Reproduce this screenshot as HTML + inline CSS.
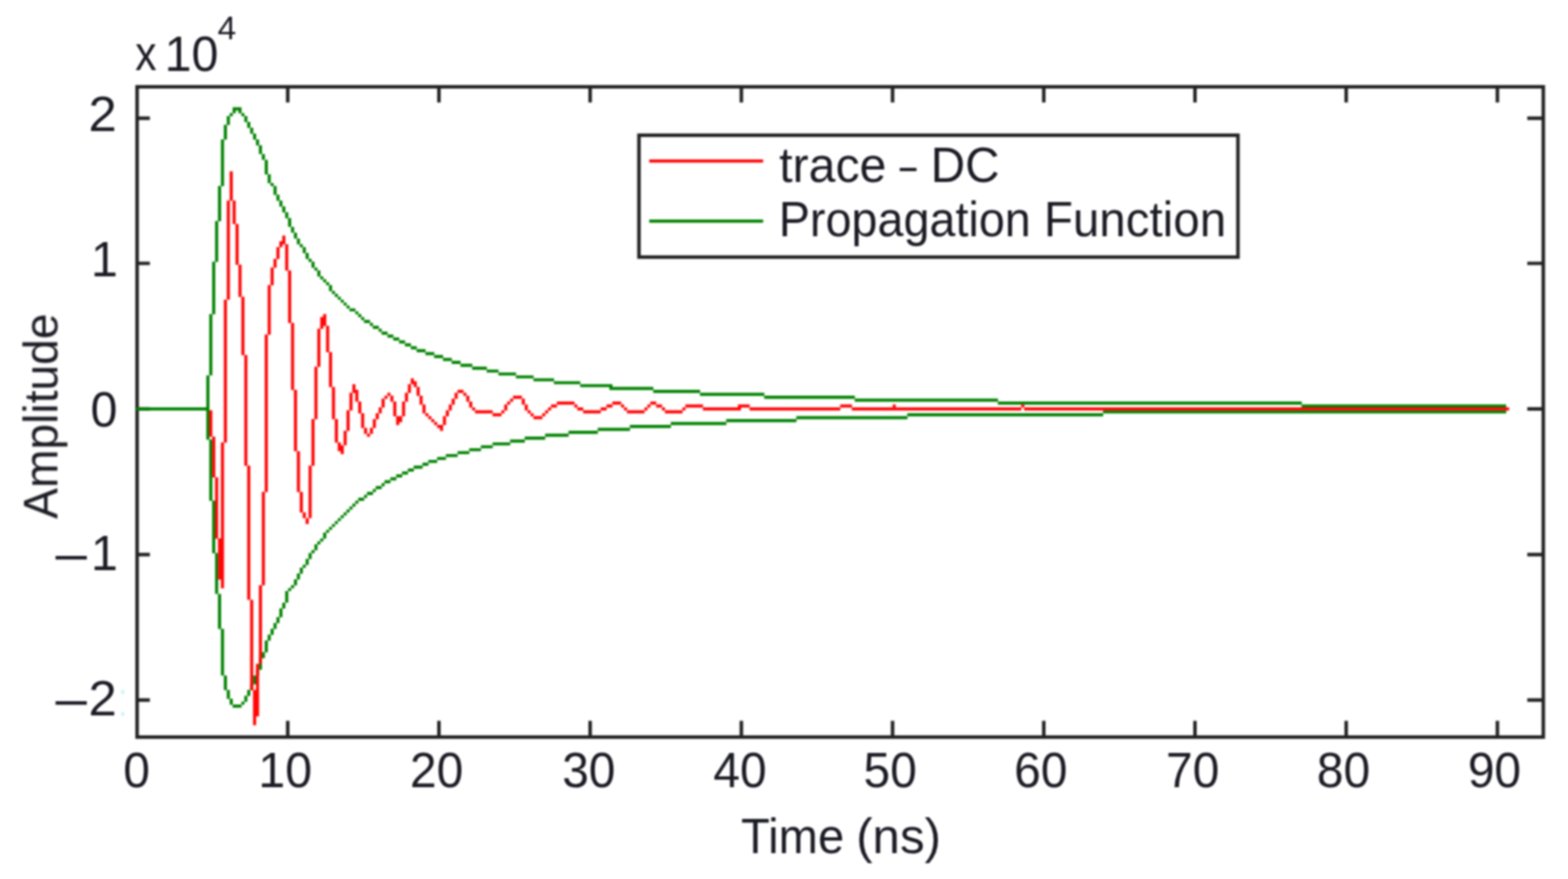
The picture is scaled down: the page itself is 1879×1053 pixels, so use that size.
<!DOCTYPE html>
<html lang="en">
<head>
<meta charset="utf-8">
<title>Amplitude vs Time (ns)</title>
<style>
html,body{margin:0;padding:0;background:#fff;}
body{width:1879px;height:1053px;overflow:hidden;}
svg{display:block;}
text{font-family:"Liberation Sans",sans-serif;font-size:56px;fill:#1b1b24;}
.g{fill:#008200;}
.r{fill:#ff0505;}
</style>
</head>
<body>
<svg width="1879" height="1053" viewBox="0 0 1879 1053">
<rect width="1879" height="1053" fill="#fff"/>
<defs>
<filter id="soft" x="-2%" y="-2%" width="104%" height="104%" color-interpolation-filters="sRGB"><feGaussianBlur stdDeviation="0.8"/></filter>
<filter id="softt" x="-2%" y="-2%" width="104%" height="104%" color-interpolation-filters="sRGB"><feGaussianBlur stdDeviation="0.8"/></filter>
</defs>
<g filter="url(#soft)">
<rect x="164.3" y="104.0" width="1685.1" height="779.0" fill="none" stroke="#222222" stroke-width="4.2"/>
<path d="M344.8,883.0V863.6M344.8,104.0V122.8M526.0,883.0V863.6M526.0,104.0V122.8M707.2,883.0V863.6M707.2,104.0V122.8M888.4,883.0V863.6M888.4,104.0V122.8M1069.6,883.0V863.6M1069.6,104.0V122.8M1250.8,883.0V863.6M1250.8,104.0V122.8M1432.0,883.0V863.6M1432.0,104.0V122.8M1613.2,883.0V863.6M1613.2,104.0V122.8M1794.4,883.0V863.6M1794.4,104.0V122.8M164.3,838.7H179.6M1849.4,838.7H1830.2M164.3,664.3H179.6M1849.4,664.3H1830.2M164.3,489.9H179.6M1849.4,489.9H1830.2M164.3,315.5H179.6M1849.4,315.5H1830.2M164.3,141.6H179.6M1849.4,141.6H1830.2" fill="none" stroke="#222222" stroke-width="4.2"/>
<path d="M163.25,488.05h3.70v3.69h-3.70zM166.75,488.05h3.70v3.69h-3.70zM170.25,488.05h3.70v3.69h-3.70zM173.75,488.05h3.70v3.69h-3.70zM177.25,488.05h3.70v3.69h-3.70zM180.75,488.05h3.70v3.69h-3.70zM184.25,488.05h3.70v3.69h-3.70zM187.75,488.05h3.70v3.69h-3.70zM191.25,488.05h3.70v3.69h-3.70zM194.75,488.05h3.70v3.69h-3.70zM198.25,488.05h3.70v3.69h-3.70zM201.75,488.05h3.70v3.69h-3.70zM205.25,488.05h3.70v3.69h-3.70zM208.75,488.05h3.70v3.69h-3.70zM212.25,488.05h3.70v3.69h-3.70zM215.75,488.05h3.70v3.69h-3.70zM219.25,488.05h3.70v3.69h-3.70zM222.75,488.05h3.70v3.69h-3.70zM226.25,488.05h3.70v3.69h-3.70zM229.75,488.05h3.70v3.69h-3.70zM233.25,488.05h3.70v3.69h-3.70zM236.75,488.05h3.70v3.69h-3.70zM240.25,488.05h3.70v3.69h-3.70zM243.75,488.05h3.70v3.69h-3.70zM247.25,449.66h3.70v42.08h-3.70zM250.75,376.37h3.70v73.49h-3.70zM254.25,313.55h3.70v63.02h-3.70zM257.75,264.69h3.70v49.06h-3.70zM261.25,222.81h3.70v42.08h-3.70zM264.75,166.97h3.70v56.04h-3.70zM268.25,149.52h3.70v17.65h-3.70zM271.75,139.05h3.70v10.67h-3.70zM275.25,135.56h3.70v3.69h-3.70zM278.75,128.58h3.70v7.18h-3.70zM282.25,128.58h3.70v3.69h-3.70zM285.75,128.58h3.70v7.18h-3.70zM289.25,135.56h3.70v3.69h-3.70zM292.75,139.05h3.70v7.18h-3.70zM296.25,146.03h3.70v7.18h-3.70zM299.75,153.01h3.70v7.18h-3.70zM303.25,159.99h3.70v7.18h-3.70zM306.75,166.97h3.70v7.18h-3.70zM310.25,173.95h3.70v10.67h-3.70zM313.75,184.42h3.70v7.18h-3.70zM317.25,191.40h3.70v17.65h-3.70zM320.75,208.85h3.70v10.67h-3.70zM324.25,219.32h3.70v3.69h-3.70zM327.75,222.81h3.70v10.67h-3.70zM331.25,233.28h3.70v7.18h-3.70zM334.75,240.26h3.70v7.18h-3.70zM338.25,247.24h3.70v7.18h-3.70zM341.75,254.22h3.70v7.18h-3.70zM345.25,261.20h3.70v10.67h-3.70zM348.75,271.67h3.70v7.18h-3.70zM352.25,278.65h3.70v7.18h-3.70zM355.75,285.63h3.70v7.18h-3.70zM359.25,292.61h3.70v3.69h-3.70zM362.75,296.10h3.70v7.18h-3.70zM366.25,303.08h3.70v7.18h-3.70zM369.75,310.06h3.70v3.69h-3.70zM373.25,313.55h3.70v7.18h-3.70zM376.75,320.53h3.70v3.69h-3.70zM380.25,324.02h3.70v7.18h-3.70zM383.75,331.00h3.70v3.69h-3.70zM387.25,334.49h3.70v3.69h-3.70zM390.75,337.98h3.70v3.69h-3.70zM394.25,341.47h3.70v7.18h-3.70zM397.75,348.45h3.70v3.69h-3.70zM401.25,351.94h3.70v3.69h-3.70zM404.75,355.43h3.70v3.69h-3.70zM408.25,358.92h3.70v3.69h-3.70zM411.75,362.41h3.70v3.69h-3.70zM415.25,365.90h3.70v3.69h-3.70zM418.75,369.39h3.70v3.69h-3.70zM422.25,369.39h3.70v3.69h-3.70zM425.75,372.88h3.70v3.69h-3.70zM429.25,376.37h3.70v3.69h-3.70zM432.75,379.86h3.70v3.69h-3.70zM436.25,383.35h3.70v3.69h-3.70zM439.75,383.35h3.70v3.69h-3.70zM443.25,386.84h3.70v3.69h-3.70zM446.75,390.33h3.70v3.69h-3.70zM450.25,390.33h3.70v3.69h-3.70zM453.75,393.82h3.70v3.69h-3.70zM457.25,397.31h3.70v3.69h-3.70zM460.75,397.31h3.70v3.69h-3.70zM464.25,400.80h3.70v3.69h-3.70zM467.75,400.80h3.70v3.69h-3.70zM471.25,404.29h3.70v3.69h-3.70zM474.75,404.29h3.70v3.69h-3.70zM478.25,407.78h3.70v3.69h-3.70zM481.75,407.78h3.70v3.69h-3.70zM485.25,411.27h3.70v3.69h-3.70zM488.75,411.27h3.70v3.69h-3.70zM492.25,414.76h3.70v3.69h-3.70zM495.75,414.76h3.70v3.69h-3.70zM499.25,418.25h3.70v3.69h-3.70zM502.75,418.25h3.70v3.69h-3.70zM506.25,418.25h3.70v3.69h-3.70zM509.75,421.74h3.70v3.69h-3.70zM513.25,421.74h3.70v3.69h-3.70zM516.75,421.74h3.70v3.69h-3.70zM520.25,425.23h3.70v3.69h-3.70zM523.75,425.23h3.70v3.69h-3.70zM527.25,425.23h3.70v3.69h-3.70zM530.75,428.72h3.70v3.69h-3.70zM534.25,428.72h3.70v3.69h-3.70zM537.75,428.72h3.70v3.69h-3.70zM541.25,432.21h3.70v3.69h-3.70zM544.75,432.21h3.70v3.69h-3.70zM548.25,432.21h3.70v3.69h-3.70zM551.75,435.70h3.70v3.69h-3.70zM555.25,435.70h3.70v3.69h-3.70zM558.75,435.70h3.70v3.69h-3.70zM562.25,435.70h3.70v3.69h-3.70zM565.75,439.19h3.70v3.69h-3.70zM569.25,439.19h3.70v3.69h-3.70zM572.75,439.19h3.70v3.69h-3.70zM576.25,439.19h3.70v3.69h-3.70zM579.75,439.19h3.70v3.69h-3.70zM583.25,442.68h3.70v3.69h-3.70zM586.75,442.68h3.70v3.69h-3.70zM590.25,442.68h3.70v3.69h-3.70zM593.75,442.68h3.70v3.69h-3.70zM597.25,446.17h3.70v3.69h-3.70zM600.75,446.17h3.70v3.69h-3.70zM604.25,446.17h3.70v3.69h-3.70zM607.75,446.17h3.70v3.69h-3.70zM611.25,446.17h3.70v3.69h-3.70zM614.75,446.17h3.70v3.69h-3.70zM618.25,449.66h3.70v3.69h-3.70zM621.75,449.66h3.70v3.69h-3.70zM625.25,449.66h3.70v3.69h-3.70zM628.75,449.66h3.70v3.69h-3.70zM632.25,449.66h3.70v3.69h-3.70zM635.75,449.66h3.70v3.69h-3.70zM639.25,453.15h3.70v3.69h-3.70zM642.75,453.15h3.70v3.69h-3.70zM646.25,453.15h3.70v3.69h-3.70zM649.75,453.15h3.70v3.69h-3.70zM653.25,453.15h3.70v3.69h-3.70zM656.75,453.15h3.70v3.69h-3.70zM660.25,453.15h3.70v3.69h-3.70zM663.75,456.64h3.70v3.69h-3.70zM667.25,456.64h3.70v3.69h-3.70zM670.75,456.64h3.70v3.69h-3.70zM674.25,456.64h3.70v3.69h-3.70zM677.75,456.64h3.70v3.69h-3.70zM681.25,456.64h3.70v3.69h-3.70zM684.75,456.64h3.70v3.69h-3.70zM688.25,456.64h3.70v3.69h-3.70zM691.75,456.64h3.70v3.69h-3.70zM695.25,460.13h3.70v3.69h-3.70zM698.75,460.13h3.70v3.69h-3.70zM702.25,460.13h3.70v3.69h-3.70zM705.75,460.13h3.70v3.69h-3.70zM709.25,460.13h3.70v3.69h-3.70zM712.75,460.13h3.70v3.69h-3.70zM716.25,460.13h3.70v3.69h-3.70zM719.75,460.13h3.70v3.69h-3.70zM723.25,460.13h3.70v3.69h-3.70zM726.75,460.13h3.70v3.69h-3.70zM730.25,460.13h3.70v7.18h-3.70zM733.75,463.62h3.70v3.69h-3.70zM737.25,463.62h3.70v3.69h-3.70zM740.75,463.62h3.70v3.69h-3.70zM744.25,463.62h3.70v3.69h-3.70zM747.75,463.62h3.70v3.69h-3.70zM751.25,463.62h3.70v3.69h-3.70zM754.75,463.62h3.70v3.69h-3.70zM758.25,463.62h3.70v3.69h-3.70zM761.75,463.62h3.70v3.69h-3.70zM765.25,463.62h3.70v3.69h-3.70zM768.75,463.62h3.70v3.69h-3.70zM772.25,463.62h3.70v3.69h-3.70zM775.75,463.62h3.70v3.69h-3.70zM779.25,463.62h3.70v3.69h-3.70zM782.75,467.11h3.70v3.69h-3.70zM786.25,467.11h3.70v3.69h-3.70zM789.75,467.11h3.70v3.69h-3.70zM793.25,467.11h3.70v3.69h-3.70zM796.75,467.11h3.70v3.69h-3.70zM800.25,467.11h3.70v3.69h-3.70zM803.75,467.11h3.70v3.69h-3.70zM807.25,467.11h3.70v3.69h-3.70zM810.75,467.11h3.70v3.69h-3.70zM814.25,467.11h3.70v3.69h-3.70zM817.75,467.11h3.70v3.69h-3.70zM821.25,467.11h3.70v3.69h-3.70zM824.75,467.11h3.70v3.69h-3.70zM828.25,467.11h3.70v3.69h-3.70zM831.75,467.11h3.70v3.69h-3.70zM835.25,467.11h3.70v3.69h-3.70zM838.75,470.60h3.70v3.69h-3.70zM842.25,470.60h3.70v3.69h-3.70zM845.75,470.60h3.70v3.69h-3.70zM849.25,470.60h3.70v3.69h-3.70zM852.75,470.60h3.70v3.69h-3.70zM856.25,470.60h3.70v3.69h-3.70zM859.75,470.60h3.70v3.69h-3.70zM863.25,470.60h3.70v3.69h-3.70zM866.75,470.60h3.70v3.69h-3.70zM870.25,470.60h3.70v3.69h-3.70zM873.75,470.60h3.70v3.69h-3.70zM877.25,470.60h3.70v3.69h-3.70zM880.75,470.60h3.70v3.69h-3.70zM884.25,470.60h3.70v3.69h-3.70zM887.75,470.60h3.70v3.69h-3.70zM891.25,470.60h3.70v3.69h-3.70zM894.75,470.60h3.70v3.69h-3.70zM898.25,470.60h3.70v3.69h-3.70zM901.75,470.60h3.70v3.69h-3.70zM905.25,470.60h3.70v3.69h-3.70zM908.75,470.60h3.70v3.69h-3.70zM912.25,470.60h3.70v3.69h-3.70zM915.75,474.09h3.70v3.69h-3.70zM919.25,474.09h3.70v3.69h-3.70zM922.75,474.09h3.70v3.69h-3.70zM926.25,474.09h3.70v3.69h-3.70zM929.75,474.09h3.70v3.69h-3.70zM933.25,474.09h3.70v3.69h-3.70zM936.75,474.09h3.70v3.69h-3.70zM940.25,474.09h3.70v3.69h-3.70zM943.75,474.09h3.70v3.69h-3.70zM947.25,474.09h3.70v3.69h-3.70zM950.75,474.09h3.70v3.69h-3.70zM954.25,474.09h3.70v3.69h-3.70zM957.75,474.09h3.70v3.69h-3.70zM961.25,474.09h3.70v3.69h-3.70zM964.75,474.09h3.70v3.69h-3.70zM968.25,474.09h3.70v3.69h-3.70zM971.75,474.09h3.70v3.69h-3.70zM975.25,474.09h3.70v3.69h-3.70zM978.75,474.09h3.70v3.69h-3.70zM982.25,474.09h3.70v3.69h-3.70zM985.75,474.09h3.70v3.69h-3.70zM989.25,474.09h3.70v3.69h-3.70zM992.75,474.09h3.70v3.69h-3.70zM996.25,474.09h3.70v3.69h-3.70zM999.75,474.09h3.70v3.69h-3.70zM1003.25,474.09h3.70v3.69h-3.70zM1006.75,474.09h3.70v3.69h-3.70zM1010.25,474.09h3.70v3.69h-3.70zM1013.75,474.09h3.70v3.69h-3.70zM1017.25,474.09h3.70v3.69h-3.70zM1020.75,474.09h3.70v3.69h-3.70zM1024.25,477.58h3.70v3.69h-3.70zM1027.75,477.58h3.70v3.69h-3.70zM1031.25,477.58h3.70v3.69h-3.70zM1034.75,477.58h3.70v3.69h-3.70zM1038.25,477.58h3.70v3.69h-3.70zM1041.75,477.58h3.70v3.69h-3.70zM1045.25,477.58h3.70v3.69h-3.70zM1048.75,477.58h3.70v3.69h-3.70zM1052.25,477.58h3.70v3.69h-3.70zM1055.75,477.58h3.70v3.69h-3.70zM1059.25,477.58h3.70v3.69h-3.70zM1062.75,477.58h3.70v3.69h-3.70zM1066.25,477.58h3.70v3.69h-3.70zM1069.75,477.58h3.70v3.69h-3.70zM1073.25,477.58h3.70v3.69h-3.70zM1076.75,477.58h3.70v3.69h-3.70zM1080.25,477.58h3.70v3.69h-3.70zM1083.75,477.58h3.70v3.69h-3.70zM1087.25,477.58h3.70v3.69h-3.70zM1090.75,477.58h3.70v3.69h-3.70zM1094.25,477.58h3.70v3.69h-3.70zM1097.75,477.58h3.70v3.69h-3.70zM1101.25,477.58h3.70v3.69h-3.70zM1104.75,477.58h3.70v3.69h-3.70zM1108.25,477.58h3.70v3.69h-3.70zM1111.75,477.58h3.70v3.69h-3.70zM1115.25,477.58h3.70v3.69h-3.70zM1118.75,477.58h3.70v3.69h-3.70zM1122.25,477.58h3.70v3.69h-3.70zM1125.75,477.58h3.70v3.69h-3.70zM1129.25,477.58h3.70v3.69h-3.70zM1132.75,477.58h3.70v3.69h-3.70zM1136.25,477.58h3.70v3.69h-3.70zM1139.75,477.58h3.70v3.69h-3.70zM1143.25,477.58h3.70v3.69h-3.70zM1146.75,477.58h3.70v3.69h-3.70zM1150.25,477.58h3.70v3.69h-3.70zM1153.75,477.58h3.70v3.69h-3.70zM1157.25,477.58h3.70v3.69h-3.70zM1160.75,477.58h3.70v3.69h-3.70zM1164.25,477.58h3.70v3.69h-3.70zM1167.75,477.58h3.70v3.69h-3.70zM1171.25,477.58h3.70v3.69h-3.70zM1174.75,477.58h3.70v3.69h-3.70zM1178.25,477.58h3.70v3.69h-3.70zM1181.75,477.58h3.70v3.69h-3.70zM1185.25,477.58h3.70v3.69h-3.70zM1188.75,477.58h3.70v3.69h-3.70zM1192.25,477.58h3.70v3.69h-3.70zM1195.75,481.07h3.70v3.69h-3.70zM1199.25,481.07h3.70v3.69h-3.70zM1202.75,481.07h3.70v3.69h-3.70zM1206.25,481.07h3.70v3.69h-3.70zM1209.75,481.07h3.70v3.69h-3.70zM1213.25,481.07h3.70v3.69h-3.70zM1216.75,481.07h3.70v3.69h-3.70zM1220.25,481.07h3.70v3.69h-3.70zM1223.75,481.07h3.70v3.69h-3.70zM1227.25,481.07h3.70v3.69h-3.70zM1230.75,481.07h3.70v3.69h-3.70zM1234.25,481.07h3.70v3.69h-3.70zM1237.75,481.07h3.70v3.69h-3.70zM1241.25,481.07h3.70v3.69h-3.70zM1244.75,481.07h3.70v3.69h-3.70zM1248.25,481.07h3.70v3.69h-3.70zM1251.75,481.07h3.70v3.69h-3.70zM1255.25,481.07h3.70v3.69h-3.70zM1258.75,481.07h3.70v3.69h-3.70zM1262.25,481.07h3.70v3.69h-3.70zM1265.75,481.07h3.70v3.69h-3.70zM1269.25,481.07h3.70v3.69h-3.70zM1272.75,481.07h3.70v3.69h-3.70zM1276.25,481.07h3.70v3.69h-3.70zM1279.75,481.07h3.70v3.69h-3.70zM1283.25,481.07h3.70v3.69h-3.70zM1286.75,481.07h3.70v3.69h-3.70zM1290.25,481.07h3.70v3.69h-3.70zM1293.75,481.07h3.70v3.69h-3.70zM1297.25,481.07h3.70v3.69h-3.70zM1300.75,481.07h3.70v3.69h-3.70zM1304.25,481.07h3.70v3.69h-3.70zM1307.75,481.07h3.70v3.69h-3.70zM1311.25,481.07h3.70v3.69h-3.70zM1314.75,481.07h3.70v3.69h-3.70zM1318.25,481.07h3.70v3.69h-3.70zM1321.75,481.07h3.70v3.69h-3.70zM1325.25,481.07h3.70v3.69h-3.70zM1328.75,481.07h3.70v3.69h-3.70zM1332.25,481.07h3.70v3.69h-3.70zM1335.75,481.07h3.70v3.69h-3.70zM1339.25,481.07h3.70v3.69h-3.70zM1342.75,481.07h3.70v3.69h-3.70zM1346.25,481.07h3.70v3.69h-3.70zM1349.75,481.07h3.70v3.69h-3.70zM1353.25,481.07h3.70v3.69h-3.70zM1356.75,481.07h3.70v3.69h-3.70zM1360.25,481.07h3.70v3.69h-3.70zM1363.75,481.07h3.70v3.69h-3.70zM1367.25,481.07h3.70v3.69h-3.70zM1370.75,481.07h3.70v3.69h-3.70zM1374.25,481.07h3.70v3.69h-3.70zM1377.75,481.07h3.70v3.69h-3.70zM1381.25,481.07h3.70v3.69h-3.70zM1384.75,481.07h3.70v3.69h-3.70zM1388.25,481.07h3.70v3.69h-3.70zM1391.75,481.07h3.70v3.69h-3.70zM1395.25,481.07h3.70v3.69h-3.70zM1398.75,481.07h3.70v3.69h-3.70zM1402.25,481.07h3.70v3.69h-3.70zM1405.75,481.07h3.70v3.69h-3.70zM1409.25,481.07h3.70v3.69h-3.70zM1412.75,481.07h3.70v3.69h-3.70zM1416.25,481.07h3.70v3.69h-3.70zM1419.75,481.07h3.70v3.69h-3.70zM1423.25,481.07h3.70v3.69h-3.70zM1426.75,481.07h3.70v3.69h-3.70zM1430.25,481.07h3.70v3.69h-3.70zM1433.75,481.07h3.70v3.69h-3.70zM1437.25,481.07h3.70v3.69h-3.70zM1440.75,481.07h3.70v3.69h-3.70zM1444.25,481.07h3.70v3.69h-3.70zM1447.75,481.07h3.70v3.69h-3.70zM1451.25,481.07h3.70v3.69h-3.70zM1454.75,481.07h3.70v3.69h-3.70zM1458.25,481.07h3.70v3.69h-3.70zM1461.75,481.07h3.70v3.69h-3.70zM1465.25,481.07h3.70v3.69h-3.70zM1468.75,481.07h3.70v3.69h-3.70zM1472.25,481.07h3.70v3.69h-3.70zM1475.75,481.07h3.70v3.69h-3.70zM1479.25,481.07h3.70v3.69h-3.70zM1482.75,481.07h3.70v3.69h-3.70zM1486.25,481.07h3.70v3.69h-3.70zM1489.75,481.07h3.70v3.69h-3.70zM1493.25,481.07h3.70v3.69h-3.70zM1496.75,481.07h3.70v3.69h-3.70zM1500.25,481.07h3.70v3.69h-3.70zM1503.75,481.07h3.70v3.69h-3.70zM1507.25,481.07h3.70v3.69h-3.70zM1510.75,481.07h3.70v3.69h-3.70zM1514.25,481.07h3.70v3.69h-3.70zM1517.75,481.07h3.70v3.69h-3.70zM1521.25,481.07h3.70v3.69h-3.70zM1524.75,481.07h3.70v3.69h-3.70zM1528.25,481.07h3.70v3.69h-3.70zM1531.75,481.07h3.70v3.69h-3.70zM1535.25,481.07h3.70v3.69h-3.70zM1538.75,481.07h3.70v3.69h-3.70zM1542.25,481.07h3.70v3.69h-3.70zM1545.75,481.07h3.70v3.69h-3.70zM1549.25,481.07h3.70v3.69h-3.70zM1552.75,481.07h3.70v3.69h-3.70zM1556.25,481.07h3.70v3.69h-3.70zM1559.75,484.56h3.70v3.69h-3.70zM1563.25,484.56h3.70v3.69h-3.70zM1566.75,484.56h3.70v3.69h-3.70zM1570.25,484.56h3.70v3.69h-3.70zM1573.75,484.56h3.70v3.69h-3.70zM1577.25,484.56h3.70v3.69h-3.70zM1580.75,484.56h3.70v3.69h-3.70zM1584.25,484.56h3.70v3.69h-3.70zM1587.75,484.56h3.70v3.69h-3.70zM1591.25,484.56h3.70v3.69h-3.70zM1594.75,484.56h3.70v3.69h-3.70zM1598.25,484.56h3.70v3.69h-3.70zM1601.75,484.56h3.70v3.69h-3.70zM1605.25,484.56h3.70v3.69h-3.70zM1608.75,484.56h3.70v3.69h-3.70zM1612.25,484.56h3.70v3.69h-3.70zM1615.75,484.56h3.70v3.69h-3.70zM1619.25,484.56h3.70v3.69h-3.70zM1622.75,484.56h3.70v3.69h-3.70zM1626.25,484.56h3.70v3.69h-3.70zM1629.75,484.56h3.70v3.69h-3.70zM1633.25,484.56h3.70v3.69h-3.70zM1636.75,484.56h3.70v3.69h-3.70zM1640.25,484.56h3.70v3.69h-3.70zM1643.75,484.56h3.70v3.69h-3.70zM1647.25,484.56h3.70v3.69h-3.70zM1650.75,484.56h3.70v3.69h-3.70zM1654.25,484.56h3.70v3.69h-3.70zM1657.75,484.56h3.70v3.69h-3.70zM1661.25,484.56h3.70v3.69h-3.70zM1664.75,484.56h3.70v3.69h-3.70zM1668.25,484.56h3.70v3.69h-3.70zM1671.75,484.56h3.70v3.69h-3.70zM1675.25,484.56h3.70v3.69h-3.70zM1678.75,484.56h3.70v3.69h-3.70zM1682.25,484.56h3.70v3.69h-3.70zM1685.75,484.56h3.70v3.69h-3.70zM1689.25,484.56h3.70v3.69h-3.70zM1692.75,484.56h3.70v3.69h-3.70zM1696.25,484.56h3.70v3.69h-3.70zM1699.75,484.56h3.70v3.69h-3.70zM1703.25,484.56h3.70v3.69h-3.70zM1706.75,484.56h3.70v3.69h-3.70zM1710.25,484.56h3.70v3.69h-3.70zM1713.75,484.56h3.70v3.69h-3.70zM1717.25,484.56h3.70v3.69h-3.70zM1720.75,484.56h3.70v3.69h-3.70zM1724.25,484.56h3.70v3.69h-3.70zM1727.75,484.56h3.70v3.69h-3.70zM1731.25,484.56h3.70v3.69h-3.70zM1734.75,484.56h3.70v3.69h-3.70zM1738.25,484.56h3.70v3.69h-3.70zM1741.75,484.56h3.70v3.69h-3.70zM1745.25,484.56h3.70v3.69h-3.70zM1748.75,484.56h3.70v3.69h-3.70zM1752.25,484.56h3.70v3.69h-3.70zM1755.75,484.56h3.70v3.69h-3.70zM1759.25,484.56h3.70v3.69h-3.70zM1762.75,484.56h3.70v3.69h-3.70zM1766.25,484.56h3.70v3.69h-3.70zM1769.75,484.56h3.70v3.69h-3.70zM1773.25,484.56h3.70v3.69h-3.70zM1776.75,484.56h3.70v3.69h-3.70zM1780.25,484.56h3.70v3.69h-3.70zM1783.75,484.56h3.70v3.69h-3.70zM1787.25,484.56h3.70v3.69h-3.70zM1790.75,484.56h3.70v3.69h-3.70zM1794.25,484.56h3.70v3.69h-3.70zM1797.75,484.56h3.70v3.69h-3.70zM1801.25,484.56h3.70v3.69h-3.70zM247.25,488.05h3.70v38.59h-3.70zM250.75,526.44h3.70v73.49h-3.70zM254.25,599.74h3.70v63.02h-3.70zM257.75,662.55h3.70v49.06h-3.70zM261.25,711.41h3.70v42.08h-3.70zM264.75,753.29h3.70v56.04h-3.70zM268.25,809.13h3.70v17.65h-3.70zM271.75,826.58h3.70v10.67h-3.70zM275.25,837.05h3.70v7.18h-3.70zM278.75,844.03h3.70v3.69h-3.70zM282.25,844.03h3.70v3.69h-3.70zM285.75,844.03h3.70v3.69h-3.70zM289.25,840.54h3.70v3.69h-3.70zM292.75,833.56h3.70v7.18h-3.70zM296.25,826.58h3.70v7.18h-3.70zM299.75,819.60h3.70v7.18h-3.70zM303.25,809.13h3.70v10.67h-3.70zM306.75,802.15h3.70v7.18h-3.70zM310.25,788.20h3.70v14.16h-3.70zM313.75,781.22h3.70v7.18h-3.70zM317.25,767.25h3.70v14.16h-3.70zM320.75,760.27h3.70v7.18h-3.70zM324.25,753.29h3.70v7.18h-3.70zM327.75,746.31h3.70v7.18h-3.70zM331.25,739.33h3.70v7.18h-3.70zM334.75,728.87h3.70v10.67h-3.70zM338.25,721.88h3.70v7.18h-3.70zM341.75,707.92h3.70v14.16h-3.70zM345.25,704.43h3.70v3.69h-3.70zM348.75,700.94h3.70v3.69h-3.70zM352.25,693.97h3.70v7.18h-3.70zM355.75,686.99h3.70v7.18h-3.70zM359.25,680.00h3.70v7.18h-3.70zM362.75,676.51h3.70v3.69h-3.70zM366.25,669.53h3.70v7.18h-3.70zM369.75,662.55h3.70v7.18h-3.70zM373.25,659.06h3.70v3.69h-3.70zM376.75,652.08h3.70v7.18h-3.70zM380.25,648.59h3.70v3.69h-3.70zM383.75,645.10h3.70v3.69h-3.70zM387.25,638.12h3.70v7.18h-3.70zM390.75,634.63h3.70v3.69h-3.70zM394.25,631.14h3.70v3.69h-3.70zM397.75,627.65h3.70v3.69h-3.70zM401.25,624.16h3.70v3.69h-3.70zM404.75,620.67h3.70v3.69h-3.70zM408.25,617.18h3.70v3.69h-3.70zM411.75,613.69h3.70v3.69h-3.70zM415.25,610.20h3.70v3.69h-3.70zM418.75,606.71h3.70v3.69h-3.70zM422.25,603.23h3.70v3.69h-3.70zM425.75,599.74h3.70v3.69h-3.70zM429.25,596.25h3.70v3.69h-3.70zM432.75,596.25h3.70v3.69h-3.70zM436.25,592.75h3.70v3.69h-3.70zM439.75,589.26h3.70v3.69h-3.70zM443.25,589.26h3.70v3.69h-3.70zM446.75,585.77h3.70v3.69h-3.70zM450.25,582.28h3.70v3.69h-3.70zM453.75,582.28h3.70v3.69h-3.70zM457.25,578.79h3.70v3.69h-3.70zM460.75,575.30h3.70v3.69h-3.70zM464.25,575.30h3.70v3.69h-3.70zM467.75,571.81h3.70v3.69h-3.70zM471.25,571.81h3.70v3.69h-3.70zM474.75,568.32h3.70v3.69h-3.70zM478.25,568.32h3.70v3.69h-3.70zM481.75,564.83h3.70v3.69h-3.70zM485.25,564.83h3.70v3.69h-3.70zM488.75,561.34h3.70v3.69h-3.70zM492.25,561.34h3.70v3.69h-3.70zM495.75,557.85h3.70v3.69h-3.70zM499.25,557.85h3.70v3.69h-3.70zM502.75,557.85h3.70v3.69h-3.70zM506.25,554.36h3.70v3.69h-3.70zM509.75,554.36h3.70v3.69h-3.70zM513.25,550.88h3.70v3.69h-3.70zM516.75,550.88h3.70v3.69h-3.70zM520.25,550.88h3.70v3.69h-3.70zM523.75,547.38h3.70v3.69h-3.70zM527.25,547.38h3.70v3.69h-3.70zM530.75,547.38h3.70v3.69h-3.70zM534.25,543.89h3.70v3.69h-3.70zM537.75,543.89h3.70v3.69h-3.70zM541.25,543.89h3.70v3.69h-3.70zM544.75,543.89h3.70v3.69h-3.70zM548.25,540.40h3.70v3.69h-3.70zM551.75,540.40h3.70v3.69h-3.70zM555.25,540.40h3.70v3.69h-3.70zM558.75,540.40h3.70v3.69h-3.70zM562.25,536.91h3.70v3.69h-3.70zM565.75,536.91h3.70v3.69h-3.70zM569.25,536.91h3.70v3.69h-3.70zM572.75,536.91h3.70v3.69h-3.70zM576.25,533.42h3.70v3.69h-3.70zM579.75,533.42h3.70v3.69h-3.70zM583.25,533.42h3.70v3.69h-3.70zM586.75,533.42h3.70v3.69h-3.70zM590.25,529.93h3.70v3.69h-3.70zM593.75,529.93h3.70v3.69h-3.70zM597.25,529.93h3.70v3.69h-3.70zM600.75,529.93h3.70v3.69h-3.70zM604.25,529.93h3.70v3.69h-3.70zM607.75,529.93h3.70v3.69h-3.70zM611.25,526.44h3.70v3.69h-3.70zM614.75,526.44h3.70v3.69h-3.70zM618.25,526.44h3.70v3.69h-3.70zM621.75,526.44h3.70v3.69h-3.70zM625.25,526.44h3.70v3.69h-3.70zM628.75,522.95h3.70v3.69h-3.70zM632.25,522.95h3.70v3.69h-3.70zM635.75,522.95h3.70v3.69h-3.70zM639.25,522.95h3.70v3.69h-3.70zM642.75,522.95h3.70v3.69h-3.70zM646.25,522.95h3.70v3.69h-3.70zM649.75,522.95h3.70v3.69h-3.70zM653.25,519.46h3.70v3.69h-3.70zM656.75,519.46h3.70v3.69h-3.70zM660.25,519.46h3.70v3.69h-3.70zM663.75,519.46h3.70v3.69h-3.70zM667.25,519.46h3.70v3.69h-3.70zM670.75,519.46h3.70v3.69h-3.70zM674.25,519.46h3.70v3.69h-3.70zM677.75,519.46h3.70v3.69h-3.70zM681.25,515.97h3.70v3.69h-3.70zM684.75,515.97h3.70v3.69h-3.70zM688.25,515.97h3.70v3.69h-3.70zM691.75,515.97h3.70v3.69h-3.70zM695.25,515.97h3.70v3.69h-3.70zM698.75,515.97h3.70v3.69h-3.70zM702.25,515.97h3.70v3.69h-3.70zM705.75,515.97h3.70v3.69h-3.70zM709.25,515.97h3.70v3.69h-3.70zM712.75,515.97h3.70v3.69h-3.70zM716.25,512.49h3.70v3.69h-3.70zM719.75,512.49h3.70v3.69h-3.70zM723.25,512.49h3.70v3.69h-3.70zM726.75,512.49h3.70v3.69h-3.70zM730.25,512.49h3.70v3.69h-3.70zM733.75,512.49h3.70v3.69h-3.70zM737.25,512.49h3.70v3.69h-3.70zM740.75,512.49h3.70v3.69h-3.70zM744.25,512.49h3.70v3.69h-3.70zM747.75,512.49h3.70v3.69h-3.70zM751.25,512.49h3.70v3.69h-3.70zM754.75,508.99h3.70v3.69h-3.70zM758.25,508.99h3.70v3.69h-3.70zM761.75,508.99h3.70v3.69h-3.70zM765.25,508.99h3.70v3.69h-3.70zM768.75,508.99h3.70v3.69h-3.70zM772.25,508.99h3.70v3.69h-3.70zM775.75,508.99h3.70v3.69h-3.70zM779.25,508.99h3.70v3.69h-3.70zM782.75,508.99h3.70v3.69h-3.70zM786.25,508.99h3.70v3.69h-3.70zM789.75,508.99h3.70v3.69h-3.70zM793.25,508.99h3.70v3.69h-3.70zM796.75,508.99h3.70v3.69h-3.70zM800.25,508.99h3.70v3.69h-3.70zM803.75,505.50h3.70v3.69h-3.70zM807.25,505.50h3.70v3.69h-3.70zM810.75,505.50h3.70v3.69h-3.70zM814.25,505.50h3.70v3.69h-3.70zM817.75,505.50h3.70v3.69h-3.70zM821.25,505.50h3.70v3.69h-3.70zM824.75,505.50h3.70v3.69h-3.70zM828.25,505.50h3.70v3.69h-3.70zM831.75,505.50h3.70v3.69h-3.70zM835.25,505.50h3.70v3.69h-3.70zM838.75,505.50h3.70v3.69h-3.70zM842.25,505.50h3.70v3.69h-3.70zM845.75,505.50h3.70v3.69h-3.70zM849.25,505.50h3.70v3.69h-3.70zM852.75,505.50h3.70v3.69h-3.70zM856.25,505.50h3.70v3.69h-3.70zM859.75,505.50h3.70v3.69h-3.70zM863.25,505.50h3.70v3.69h-3.70zM866.75,505.50h3.70v3.69h-3.70zM870.25,502.01h3.70v3.69h-3.70zM873.75,502.01h3.70v3.69h-3.70zM877.25,502.01h3.70v3.69h-3.70zM880.75,502.01h3.70v3.69h-3.70zM884.25,502.01h3.70v3.69h-3.70zM887.75,502.01h3.70v3.69h-3.70zM891.25,502.01h3.70v3.69h-3.70zM894.75,502.01h3.70v3.69h-3.70zM898.25,502.01h3.70v3.69h-3.70zM901.75,502.01h3.70v3.69h-3.70zM905.25,502.01h3.70v3.69h-3.70zM908.75,502.01h3.70v3.69h-3.70zM912.25,502.01h3.70v3.69h-3.70zM915.75,502.01h3.70v3.69h-3.70zM919.25,502.01h3.70v3.69h-3.70zM922.75,502.01h3.70v3.69h-3.70zM926.25,502.01h3.70v3.69h-3.70zM929.75,502.01h3.70v3.69h-3.70zM933.25,502.01h3.70v3.69h-3.70zM936.75,502.01h3.70v3.69h-3.70zM940.25,502.01h3.70v3.69h-3.70zM943.75,502.01h3.70v3.69h-3.70zM947.25,502.01h3.70v3.69h-3.70zM950.75,502.01h3.70v3.69h-3.70zM954.25,498.52h3.70v3.69h-3.70zM957.75,498.52h3.70v3.69h-3.70zM961.25,498.52h3.70v3.69h-3.70zM964.75,498.52h3.70v3.69h-3.70zM968.25,498.52h3.70v3.69h-3.70zM971.75,498.52h3.70v3.69h-3.70zM975.25,498.52h3.70v3.69h-3.70zM978.75,498.52h3.70v3.69h-3.70zM982.25,498.52h3.70v3.69h-3.70zM985.75,498.52h3.70v3.69h-3.70zM989.25,498.52h3.70v3.69h-3.70zM992.75,498.52h3.70v3.69h-3.70zM996.25,498.52h3.70v3.69h-3.70zM999.75,498.52h3.70v3.69h-3.70zM1003.25,498.52h3.70v3.69h-3.70zM1006.75,498.52h3.70v3.69h-3.70zM1010.25,498.52h3.70v3.69h-3.70zM1013.75,498.52h3.70v3.69h-3.70zM1017.25,498.52h3.70v3.69h-3.70zM1020.75,498.52h3.70v3.69h-3.70zM1024.25,498.52h3.70v3.69h-3.70zM1027.75,498.52h3.70v3.69h-3.70zM1031.25,498.52h3.70v3.69h-3.70zM1034.75,498.52h3.70v3.69h-3.70zM1038.25,498.52h3.70v3.69h-3.70zM1041.75,498.52h3.70v3.69h-3.70zM1045.25,498.52h3.70v3.69h-3.70zM1048.75,498.52h3.70v3.69h-3.70zM1052.25,498.52h3.70v3.69h-3.70zM1055.75,498.52h3.70v3.69h-3.70zM1059.25,498.52h3.70v3.69h-3.70zM1062.75,498.52h3.70v3.69h-3.70zM1066.25,498.52h3.70v3.69h-3.70zM1069.75,498.52h3.70v3.69h-3.70zM1073.25,498.52h3.70v3.69h-3.70zM1076.75,498.52h3.70v3.69h-3.70zM1080.25,498.52h3.70v3.69h-3.70zM1083.75,498.52h3.70v3.69h-3.70zM1087.25,495.03h3.70v3.69h-3.70zM1090.75,495.03h3.70v3.69h-3.70zM1094.25,495.03h3.70v3.69h-3.70zM1097.75,495.03h3.70v3.69h-3.70zM1101.25,495.03h3.70v3.69h-3.70zM1104.75,495.03h3.70v3.69h-3.70zM1108.25,495.03h3.70v3.69h-3.70zM1111.75,495.03h3.70v3.69h-3.70zM1115.25,495.03h3.70v3.69h-3.70zM1118.75,495.03h3.70v3.69h-3.70zM1122.25,495.03h3.70v3.69h-3.70zM1125.75,495.03h3.70v3.69h-3.70zM1129.25,495.03h3.70v3.69h-3.70zM1132.75,495.03h3.70v3.69h-3.70zM1136.25,495.03h3.70v3.69h-3.70zM1139.75,495.03h3.70v3.69h-3.70zM1143.25,495.03h3.70v3.69h-3.70zM1146.75,495.03h3.70v3.69h-3.70zM1150.25,495.03h3.70v3.69h-3.70zM1153.75,495.03h3.70v3.69h-3.70zM1157.25,495.03h3.70v3.69h-3.70zM1160.75,495.03h3.70v3.69h-3.70zM1164.25,495.03h3.70v3.69h-3.70zM1167.75,495.03h3.70v3.69h-3.70zM1171.25,495.03h3.70v3.69h-3.70zM1174.75,495.03h3.70v3.69h-3.70zM1178.25,495.03h3.70v3.69h-3.70zM1181.75,495.03h3.70v3.69h-3.70zM1185.25,495.03h3.70v3.69h-3.70zM1188.75,495.03h3.70v3.69h-3.70zM1192.25,495.03h3.70v3.69h-3.70zM1195.75,495.03h3.70v3.69h-3.70zM1199.25,495.03h3.70v3.69h-3.70zM1202.75,495.03h3.70v3.69h-3.70zM1206.25,495.03h3.70v3.69h-3.70zM1209.75,495.03h3.70v3.69h-3.70zM1213.25,495.03h3.70v3.69h-3.70zM1216.75,495.03h3.70v3.69h-3.70zM1220.25,495.03h3.70v3.69h-3.70zM1223.75,495.03h3.70v3.69h-3.70zM1227.25,495.03h3.70v3.69h-3.70zM1230.75,495.03h3.70v3.69h-3.70zM1234.25,495.03h3.70v3.69h-3.70zM1237.75,495.03h3.70v3.69h-3.70zM1241.25,495.03h3.70v3.69h-3.70zM1244.75,495.03h3.70v3.69h-3.70zM1248.25,495.03h3.70v3.69h-3.70zM1251.75,495.03h3.70v3.69h-3.70zM1255.25,495.03h3.70v3.69h-3.70zM1258.75,495.03h3.70v3.69h-3.70zM1262.25,495.03h3.70v3.69h-3.70zM1265.75,495.03h3.70v3.69h-3.70zM1269.25,495.03h3.70v3.69h-3.70zM1272.75,495.03h3.70v3.69h-3.70zM1276.25,495.03h3.70v3.69h-3.70zM1279.75,495.03h3.70v3.69h-3.70zM1283.25,495.03h3.70v3.69h-3.70zM1286.75,495.03h3.70v3.69h-3.70zM1290.25,495.03h3.70v3.69h-3.70zM1293.75,495.03h3.70v3.69h-3.70zM1297.25,495.03h3.70v3.69h-3.70zM1300.75,495.03h3.70v3.69h-3.70zM1304.25,495.03h3.70v3.69h-3.70zM1307.75,495.03h3.70v3.69h-3.70zM1311.25,495.03h3.70v3.69h-3.70zM1314.75,495.03h3.70v3.69h-3.70zM1318.25,495.03h3.70v3.69h-3.70zM1321.75,491.54h3.70v3.69h-3.70zM1325.25,491.54h3.70v3.69h-3.70zM1328.75,491.54h3.70v3.69h-3.70zM1332.25,491.54h3.70v3.69h-3.70zM1335.75,491.54h3.70v3.69h-3.70zM1339.25,491.54h3.70v3.69h-3.70zM1342.75,491.54h3.70v3.69h-3.70zM1346.25,491.54h3.70v3.69h-3.70zM1349.75,491.54h3.70v3.69h-3.70zM1353.25,491.54h3.70v3.69h-3.70zM1356.75,491.54h3.70v3.69h-3.70zM1360.25,491.54h3.70v3.69h-3.70zM1363.75,491.54h3.70v3.69h-3.70zM1367.25,491.54h3.70v3.69h-3.70zM1370.75,491.54h3.70v3.69h-3.70zM1374.25,491.54h3.70v3.69h-3.70zM1377.75,491.54h3.70v3.69h-3.70zM1381.25,491.54h3.70v3.69h-3.70zM1384.75,491.54h3.70v3.69h-3.70zM1388.25,491.54h3.70v3.69h-3.70zM1391.75,491.54h3.70v3.69h-3.70zM1395.25,491.54h3.70v3.69h-3.70zM1398.75,491.54h3.70v3.69h-3.70zM1402.25,491.54h3.70v3.69h-3.70zM1405.75,491.54h3.70v3.69h-3.70zM1409.25,491.54h3.70v3.69h-3.70zM1412.75,491.54h3.70v3.69h-3.70zM1416.25,491.54h3.70v3.69h-3.70zM1419.75,491.54h3.70v3.69h-3.70zM1423.25,491.54h3.70v3.69h-3.70zM1426.75,491.54h3.70v3.69h-3.70zM1430.25,491.54h3.70v3.69h-3.70zM1433.75,491.54h3.70v3.69h-3.70zM1437.25,491.54h3.70v3.69h-3.70zM1440.75,491.54h3.70v3.69h-3.70zM1444.25,491.54h3.70v3.69h-3.70zM1447.75,491.54h3.70v3.69h-3.70zM1451.25,491.54h3.70v3.69h-3.70zM1454.75,491.54h3.70v3.69h-3.70zM1458.25,491.54h3.70v3.69h-3.70zM1461.75,491.54h3.70v3.69h-3.70zM1465.25,491.54h3.70v3.69h-3.70zM1468.75,491.54h3.70v3.69h-3.70zM1472.25,491.54h3.70v3.69h-3.70zM1475.75,491.54h3.70v3.69h-3.70zM1479.25,491.54h3.70v3.69h-3.70zM1482.75,491.54h3.70v3.69h-3.70zM1486.25,491.54h3.70v3.69h-3.70zM1489.75,491.54h3.70v3.69h-3.70zM1493.25,491.54h3.70v3.69h-3.70zM1496.75,491.54h3.70v3.69h-3.70zM1500.25,491.54h3.70v3.69h-3.70zM1503.75,491.54h3.70v3.69h-3.70zM1507.25,491.54h3.70v3.69h-3.70zM1510.75,491.54h3.70v3.69h-3.70zM1514.25,491.54h3.70v3.69h-3.70zM1517.75,491.54h3.70v3.69h-3.70zM1521.25,491.54h3.70v3.69h-3.70zM1524.75,491.54h3.70v3.69h-3.70zM1528.25,491.54h3.70v3.69h-3.70zM1531.75,491.54h3.70v3.69h-3.70zM1535.25,491.54h3.70v3.69h-3.70zM1538.75,491.54h3.70v3.69h-3.70zM1542.25,491.54h3.70v3.69h-3.70zM1545.75,491.54h3.70v3.69h-3.70zM1549.25,491.54h3.70v3.69h-3.70zM1552.75,491.54h3.70v3.69h-3.70zM1556.25,491.54h3.70v3.69h-3.70zM1559.75,491.54h3.70v3.69h-3.70zM1563.25,491.54h3.70v3.69h-3.70zM1566.75,491.54h3.70v3.69h-3.70zM1570.25,491.54h3.70v3.69h-3.70zM1573.75,491.54h3.70v3.69h-3.70zM1577.25,491.54h3.70v3.69h-3.70zM1580.75,491.54h3.70v3.69h-3.70zM1584.25,491.54h3.70v3.69h-3.70zM1587.75,491.54h3.70v3.69h-3.70zM1591.25,491.54h3.70v3.69h-3.70zM1594.75,491.54h3.70v3.69h-3.70zM1598.25,491.54h3.70v3.69h-3.70zM1601.75,491.54h3.70v3.69h-3.70zM1605.25,491.54h3.70v3.69h-3.70zM1608.75,491.54h3.70v3.69h-3.70zM1612.25,491.54h3.70v3.69h-3.70zM1615.75,491.54h3.70v3.69h-3.70zM1619.25,491.54h3.70v3.69h-3.70zM1622.75,491.54h3.70v3.69h-3.70zM1626.25,491.54h3.70v3.69h-3.70zM1629.75,491.54h3.70v3.69h-3.70zM1633.25,491.54h3.70v3.69h-3.70zM1636.75,491.54h3.70v3.69h-3.70zM1640.25,491.54h3.70v3.69h-3.70zM1643.75,491.54h3.70v3.69h-3.70zM1647.25,491.54h3.70v3.69h-3.70zM1650.75,491.54h3.70v3.69h-3.70zM1654.25,491.54h3.70v3.69h-3.70zM1657.75,491.54h3.70v3.69h-3.70zM1661.25,491.54h3.70v3.69h-3.70zM1664.75,491.54h3.70v3.69h-3.70zM1668.25,491.54h3.70v3.69h-3.70zM1671.75,491.54h3.70v3.69h-3.70zM1675.25,491.54h3.70v3.69h-3.70zM1678.75,491.54h3.70v3.69h-3.70zM1682.25,491.54h3.70v3.69h-3.70zM1685.75,491.54h3.70v3.69h-3.70zM1689.25,491.54h3.70v3.69h-3.70zM1692.75,491.54h3.70v3.69h-3.70zM1696.25,491.54h3.70v3.69h-3.70zM1699.75,491.54h3.70v3.69h-3.70zM1703.25,491.54h3.70v3.69h-3.70zM1706.75,491.54h3.70v3.69h-3.70zM1710.25,491.54h3.70v3.69h-3.70zM1713.75,491.54h3.70v3.69h-3.70zM1717.25,491.54h3.70v3.69h-3.70zM1720.75,491.54h3.70v3.69h-3.70zM1724.25,491.54h3.70v3.69h-3.70zM1727.75,491.54h3.70v3.69h-3.70zM1731.25,491.54h3.70v3.69h-3.70zM1734.75,491.54h3.70v3.69h-3.70zM1738.25,491.54h3.70v3.69h-3.70zM1741.75,491.54h3.70v3.69h-3.70zM1745.25,491.54h3.70v3.69h-3.70zM1748.75,491.54h3.70v3.69h-3.70zM1752.25,491.54h3.70v3.69h-3.70zM1755.75,491.54h3.70v3.69h-3.70zM1759.25,491.54h3.70v3.69h-3.70zM1762.75,491.54h3.70v3.69h-3.70zM1766.25,491.54h3.70v3.69h-3.70zM1769.75,491.54h3.70v3.69h-3.70zM1773.25,491.54h3.70v3.69h-3.70zM1776.75,491.54h3.70v3.69h-3.70zM1780.25,491.54h3.70v3.69h-3.70zM1783.75,491.54h3.70v3.69h-3.70zM1787.25,491.54h3.70v3.69h-3.70zM1790.75,491.54h3.70v3.69h-3.70zM1794.25,491.54h3.70v3.69h-3.70zM1797.75,491.54h3.70v3.69h-3.70zM1801.25,491.54h3.70v3.69h-3.70z" class="g"/>
<path d="M250.75,491.54h3.70v31.61h-3.70zM254.25,522.95h3.70v49.06h-3.70zM257.75,571.81h3.70v73.49h-3.70zM261.25,645.10h3.70v49.06h-3.70zM264.75,529.93h3.70v174.70h-3.70zM268.25,358.92h3.70v171.21h-3.70zM271.75,240.26h3.70v118.86h-3.70zM275.25,205.36h3.70v35.10h-3.70zM278.75,240.26h3.70v28.12h-3.70zM282.25,268.18h3.70v49.06h-3.70zM285.75,317.04h3.70v38.59h-3.70zM289.25,355.43h3.70v70.00h-3.70zM292.75,425.23h3.70v132.82h-3.70zM296.25,557.85h3.70v160.74h-3.70zM299.75,718.39h3.70v108.39h-3.70zM303.25,826.58h3.70v42.08h-3.70zM306.75,795.17h3.70v63.02h-3.70zM310.25,700.94h3.70v94.43h-3.70zM313.75,589.26h3.70v111.88h-3.70zM317.25,400.80h3.70v188.66h-3.70zM320.75,341.47h3.70v59.53h-3.70zM324.25,320.53h3.70v21.14h-3.70zM327.75,310.06h3.70v10.67h-3.70zM331.25,296.10h3.70v14.16h-3.70zM334.75,289.12h3.70v7.18h-3.70zM338.25,282.14h3.70v10.67h-3.70zM341.75,292.61h3.70v31.61h-3.70zM345.25,324.02h3.70v63.02h-3.70zM348.75,386.84h3.70v80.47h-3.70zM352.25,467.11h3.70v73.49h-3.70zM355.75,540.40h3.70v49.06h-3.70zM359.25,589.26h3.70v24.63h-3.70zM362.75,613.69h3.70v7.18h-3.70zM366.25,620.67h3.70v7.18h-3.70zM369.75,557.85h3.70v63.02h-3.70zM373.25,502.01h3.70v56.04h-3.70zM376.75,439.19h3.70v63.02h-3.70zM380.25,393.82h3.70v45.57h-3.70zM383.75,379.86h3.70v14.16h-3.70zM387.25,376.37h3.70v14.16h-3.70zM390.75,390.33h3.70v31.61h-3.70zM394.25,421.74h3.70v42.08h-3.70zM397.75,463.62h3.70v38.59h-3.70zM401.25,502.01h3.70v28.12h-3.70zM404.75,529.93h3.70v10.67h-3.70zM408.25,533.42h3.70v10.67h-3.70zM411.75,515.97h3.70v17.65h-3.70zM415.25,491.54h3.70v24.63h-3.70zM418.75,470.60h3.70v21.14h-3.70zM422.25,460.13h3.70v10.67h-3.70zM425.75,467.11h3.70v14.16h-3.70zM429.25,481.07h3.70v14.16h-3.70zM432.75,495.03h3.70v17.65h-3.70zM436.25,512.49h3.70v7.18h-3.70zM439.75,519.46h3.70v3.69h-3.70zM443.25,512.49h3.70v7.18h-3.70zM446.75,502.01h3.70v10.67h-3.70zM450.25,495.03h3.70v7.18h-3.70zM453.75,488.05h3.70v7.18h-3.70zM457.25,477.58h3.70v10.67h-3.70zM460.75,474.09h3.70v3.69h-3.70zM464.25,470.60h3.70v3.69h-3.70zM467.75,474.09h3.70v7.18h-3.70zM471.25,481.07h3.70v17.65h-3.70zM474.75,498.52h3.70v10.67h-3.70zM478.25,498.52h3.70v7.18h-3.70zM481.75,481.07h3.70v17.65h-3.70zM485.25,470.60h3.70v10.67h-3.70zM488.75,460.13h3.70v10.67h-3.70zM492.25,453.15h3.70v7.18h-3.70zM495.75,456.64h3.70v7.18h-3.70zM499.25,463.62h3.70v10.67h-3.70zM502.75,474.09h3.70v10.67h-3.70zM506.25,484.56h3.70v10.67h-3.70zM509.75,495.03h3.70v3.69h-3.70zM513.25,498.52h3.70v3.69h-3.70zM516.75,502.01h3.70v3.69h-3.70zM520.25,505.50h3.70v3.69h-3.70zM523.75,508.99h3.70v3.69h-3.70zM527.25,508.99h3.70v7.18h-3.70zM530.75,498.52h3.70v10.67h-3.70zM534.25,491.54h3.70v7.18h-3.70zM537.75,484.56h3.70v7.18h-3.70zM541.25,477.58h3.70v7.18h-3.70zM544.75,470.60h3.70v7.18h-3.70zM548.25,467.11h3.70v3.69h-3.70zM551.75,467.11h3.70v3.69h-3.70zM555.25,470.60h3.70v3.69h-3.70zM558.75,474.09h3.70v7.18h-3.70zM562.25,481.07h3.70v7.18h-3.70zM565.75,488.05h3.70v3.69h-3.70zM569.25,491.54h3.70v3.69h-3.70zM572.75,491.54h3.70v3.69h-3.70zM576.25,491.54h3.70v3.69h-3.70zM579.75,491.54h3.70v3.69h-3.70zM583.25,491.54h3.70v3.69h-3.70zM586.75,491.54h3.70v3.69h-3.70zM590.25,495.03h3.70v3.69h-3.70zM593.75,495.03h3.70v3.69h-3.70zM597.25,495.03h3.70v3.69h-3.70zM600.75,491.54h3.70v3.69h-3.70zM604.25,484.56h3.70v7.18h-3.70zM607.75,481.07h3.70v3.69h-3.70zM611.25,477.58h3.70v3.69h-3.70zM614.75,474.09h3.70v3.69h-3.70zM618.25,474.09h3.70v3.69h-3.70zM621.75,474.09h3.70v3.69h-3.70zM625.25,477.58h3.70v7.18h-3.70zM628.75,484.56h3.70v7.18h-3.70zM632.25,491.54h3.70v3.69h-3.70zM635.75,495.03h3.70v3.69h-3.70zM639.25,498.52h3.70v3.69h-3.70zM642.75,498.52h3.70v3.69h-3.70zM646.25,498.52h3.70v3.69h-3.70zM649.75,495.03h3.70v3.69h-3.70zM653.25,491.54h3.70v3.69h-3.70zM656.75,488.05h3.70v3.69h-3.70zM660.25,484.56h3.70v3.69h-3.70zM663.75,484.56h3.70v3.69h-3.70zM667.25,481.07h3.70v3.69h-3.70zM670.75,481.07h3.70v3.69h-3.70zM674.25,481.07h3.70v3.69h-3.70zM677.75,481.07h3.70v3.69h-3.70zM681.25,481.07h3.70v3.69h-3.70zM684.75,481.07h3.70v3.69h-3.70zM688.25,484.56h3.70v3.69h-3.70zM691.75,488.05h3.70v3.69h-3.70zM695.25,488.05h3.70v3.69h-3.70zM698.75,491.54h3.70v3.69h-3.70zM702.25,491.54h3.70v3.69h-3.70zM705.75,491.54h3.70v3.69h-3.70zM709.25,491.54h3.70v3.69h-3.70zM712.75,491.54h3.70v3.69h-3.70zM716.25,491.54h3.70v3.69h-3.70zM719.75,488.05h3.70v3.69h-3.70zM723.25,488.05h3.70v3.69h-3.70zM726.75,484.56h3.70v3.69h-3.70zM730.25,484.56h3.70v3.69h-3.70zM733.75,481.07h3.70v3.69h-3.70zM737.25,481.07h3.70v3.69h-3.70zM740.75,481.07h3.70v3.69h-3.70zM744.25,484.56h3.70v3.69h-3.70zM747.75,488.05h3.70v3.69h-3.70zM751.25,491.54h3.70v3.69h-3.70zM754.75,491.54h3.70v3.69h-3.70zM758.25,491.54h3.70v3.69h-3.70zM761.75,491.54h3.70v3.69h-3.70zM765.25,491.54h3.70v3.69h-3.70zM768.75,491.54h3.70v3.69h-3.70zM772.25,488.05h3.70v3.69h-3.70zM775.75,484.56h3.70v3.69h-3.70zM779.25,481.07h3.70v3.69h-3.70zM782.75,481.07h3.70v3.69h-3.70zM786.25,484.56h3.70v3.69h-3.70zM789.75,484.56h3.70v3.69h-3.70zM793.25,488.05h3.70v3.69h-3.70zM796.75,491.54h3.70v3.69h-3.70zM800.25,491.54h3.70v3.69h-3.70zM803.75,491.54h3.70v3.69h-3.70zM807.25,491.54h3.70v3.69h-3.70zM810.75,491.54h3.70v3.69h-3.70zM814.25,491.54h3.70v3.69h-3.70zM817.75,488.05h3.70v3.69h-3.70zM821.25,484.56h3.70v3.69h-3.70zM824.75,484.56h3.70v3.69h-3.70zM828.25,484.56h3.70v3.69h-3.70zM831.75,484.56h3.70v3.69h-3.70zM835.25,484.56h3.70v3.69h-3.70zM838.75,484.56h3.70v3.69h-3.70zM842.25,488.05h3.70v3.69h-3.70zM845.75,488.05h3.70v3.69h-3.70zM849.25,488.05h3.70v3.69h-3.70zM852.75,488.05h3.70v3.69h-3.70zM856.25,488.05h3.70v3.69h-3.70zM859.75,488.05h3.70v3.69h-3.70zM863.25,488.05h3.70v3.69h-3.70zM866.75,488.05h3.70v3.69h-3.70zM870.25,488.05h3.70v3.69h-3.70zM873.75,488.05h3.70v3.69h-3.70zM877.25,488.05h3.70v3.69h-3.70zM880.75,488.05h3.70v3.69h-3.70zM884.25,484.56h3.70v7.18h-3.70zM887.75,484.56h3.70v3.69h-3.70zM891.25,484.56h3.70v3.69h-3.70zM894.75,484.56h3.70v3.69h-3.70zM898.25,488.05h3.70v3.69h-3.70zM901.75,488.05h3.70v3.69h-3.70zM905.25,488.05h3.70v3.69h-3.70zM908.75,488.05h3.70v3.69h-3.70zM912.25,488.05h3.70v3.69h-3.70zM915.75,488.05h3.70v3.69h-3.70zM919.25,488.05h3.70v3.69h-3.70zM922.75,488.05h3.70v3.69h-3.70zM926.25,488.05h3.70v3.69h-3.70zM929.75,488.05h3.70v3.69h-3.70zM933.25,488.05h3.70v3.69h-3.70zM936.75,488.05h3.70v3.69h-3.70zM940.25,488.05h3.70v3.69h-3.70zM943.75,488.05h3.70v3.69h-3.70zM947.25,488.05h3.70v3.69h-3.70zM950.75,488.05h3.70v3.69h-3.70zM954.25,488.05h3.70v3.69h-3.70zM957.75,488.05h3.70v3.69h-3.70zM961.25,488.05h3.70v3.69h-3.70zM964.75,488.05h3.70v3.69h-3.70zM968.25,488.05h3.70v3.69h-3.70zM971.75,488.05h3.70v3.69h-3.70zM975.25,488.05h3.70v3.69h-3.70zM978.75,488.05h3.70v3.69h-3.70zM982.25,488.05h3.70v3.69h-3.70zM985.75,488.05h3.70v3.69h-3.70zM989.25,488.05h3.70v3.69h-3.70zM992.75,488.05h3.70v3.69h-3.70zM996.25,488.05h3.70v3.69h-3.70zM999.75,488.05h3.70v3.69h-3.70zM1003.25,488.05h3.70v3.69h-3.70zM1006.75,484.56h3.70v3.69h-3.70zM1010.25,484.56h3.70v3.69h-3.70zM1013.75,484.56h3.70v3.69h-3.70zM1017.25,484.56h3.70v3.69h-3.70zM1020.75,488.05h3.70v3.69h-3.70zM1024.25,488.05h3.70v3.69h-3.70zM1027.75,488.05h3.70v3.69h-3.70zM1031.25,488.05h3.70v3.69h-3.70zM1034.75,488.05h3.70v3.69h-3.70zM1038.25,488.05h3.70v3.69h-3.70zM1041.75,488.05h3.70v3.69h-3.70zM1045.25,488.05h3.70v3.69h-3.70zM1048.75,488.05h3.70v3.69h-3.70zM1052.25,488.05h3.70v3.69h-3.70zM1055.75,488.05h3.70v3.69h-3.70zM1059.25,488.05h3.70v3.69h-3.70zM1062.75,488.05h3.70v3.69h-3.70zM1066.25,488.05h3.70v3.69h-3.70zM1069.75,484.56h3.70v7.18h-3.70zM1073.25,488.05h3.70v3.69h-3.70zM1076.75,488.05h3.70v3.69h-3.70zM1080.25,488.05h3.70v3.69h-3.70zM1083.75,488.05h3.70v3.69h-3.70zM1087.25,488.05h3.70v3.69h-3.70zM1090.75,488.05h3.70v3.69h-3.70zM1094.25,488.05h3.70v3.69h-3.70zM1097.75,488.05h3.70v3.69h-3.70zM1101.25,488.05h3.70v3.69h-3.70zM1104.75,488.05h3.70v3.69h-3.70zM1108.25,488.05h3.70v3.69h-3.70zM1111.75,488.05h3.70v3.69h-3.70zM1115.25,488.05h3.70v3.69h-3.70zM1118.75,488.05h3.70v3.69h-3.70zM1122.25,488.05h3.70v3.69h-3.70zM1125.75,488.05h3.70v3.69h-3.70zM1129.25,488.05h3.70v3.69h-3.70zM1132.75,488.05h3.70v3.69h-3.70zM1136.25,488.05h3.70v3.69h-3.70zM1139.75,488.05h3.70v3.69h-3.70zM1143.25,488.05h3.70v3.69h-3.70zM1146.75,488.05h3.70v3.69h-3.70zM1150.25,488.05h3.70v3.69h-3.70zM1153.75,488.05h3.70v3.69h-3.70zM1157.25,488.05h3.70v3.69h-3.70zM1160.75,488.05h3.70v3.69h-3.70zM1164.25,488.05h3.70v3.69h-3.70zM1167.75,488.05h3.70v3.69h-3.70zM1171.25,488.05h3.70v3.69h-3.70zM1174.75,488.05h3.70v3.69h-3.70zM1178.25,488.05h3.70v3.69h-3.70zM1181.75,488.05h3.70v3.69h-3.70zM1185.25,488.05h3.70v3.69h-3.70zM1188.75,488.05h3.70v3.69h-3.70zM1192.25,488.05h3.70v3.69h-3.70zM1195.75,488.05h3.70v3.69h-3.70zM1199.25,488.05h3.70v3.69h-3.70zM1202.75,488.05h3.70v3.69h-3.70zM1206.25,488.05h3.70v3.69h-3.70zM1209.75,488.05h3.70v3.69h-3.70zM1213.25,488.05h3.70v3.69h-3.70zM1216.75,488.05h3.70v3.69h-3.70zM1220.25,488.05h3.70v3.69h-3.70zM1223.75,484.56h3.70v3.69h-3.70zM1227.25,488.05h3.70v3.69h-3.70zM1230.75,488.05h3.70v3.69h-3.70zM1234.25,488.05h3.70v3.69h-3.70zM1237.75,488.05h3.70v3.69h-3.70zM1241.25,488.05h3.70v3.69h-3.70zM1244.75,488.05h3.70v3.69h-3.70zM1248.25,488.05h3.70v3.69h-3.70zM1251.75,488.05h3.70v3.69h-3.70zM1255.25,488.05h3.70v3.69h-3.70zM1258.75,488.05h3.70v3.69h-3.70zM1262.25,488.05h3.70v3.69h-3.70zM1265.75,488.05h3.70v3.69h-3.70zM1269.25,488.05h3.70v3.69h-3.70zM1272.75,488.05h3.70v3.69h-3.70zM1276.25,488.05h3.70v3.69h-3.70zM1279.75,488.05h3.70v3.69h-3.70zM1283.25,488.05h3.70v3.69h-3.70zM1286.75,488.05h3.70v3.69h-3.70zM1290.25,488.05h3.70v3.69h-3.70zM1293.75,488.05h3.70v3.69h-3.70zM1297.25,488.05h3.70v3.69h-3.70zM1300.75,488.05h3.70v3.69h-3.70zM1304.25,488.05h3.70v3.69h-3.70zM1307.75,488.05h3.70v3.69h-3.70zM1311.25,488.05h3.70v3.69h-3.70zM1314.75,488.05h3.70v3.69h-3.70zM1318.25,488.05h3.70v3.69h-3.70zM1321.75,488.05h3.70v3.69h-3.70zM1325.25,488.05h3.70v3.69h-3.70zM1328.75,488.05h3.70v3.69h-3.70zM1332.25,488.05h3.70v3.69h-3.70zM1335.75,488.05h3.70v3.69h-3.70zM1339.25,488.05h3.70v3.69h-3.70zM1342.75,488.05h3.70v3.69h-3.70zM1346.25,488.05h3.70v3.69h-3.70zM1349.75,488.05h3.70v3.69h-3.70zM1353.25,488.05h3.70v3.69h-3.70zM1356.75,488.05h3.70v3.69h-3.70zM1360.25,488.05h3.70v3.69h-3.70zM1363.75,488.05h3.70v3.69h-3.70zM1367.25,488.05h3.70v3.69h-3.70zM1370.75,488.05h3.70v3.69h-3.70zM1374.25,488.05h3.70v3.69h-3.70zM1377.75,488.05h3.70v3.69h-3.70zM1381.25,488.05h3.70v3.69h-3.70zM1384.75,488.05h3.70v3.69h-3.70zM1388.25,488.05h3.70v3.69h-3.70zM1391.75,488.05h3.70v3.69h-3.70zM1395.25,488.05h3.70v3.69h-3.70zM1398.75,488.05h3.70v3.69h-3.70zM1402.25,488.05h3.70v3.69h-3.70zM1405.75,488.05h3.70v3.69h-3.70zM1409.25,488.05h3.70v3.69h-3.70zM1412.75,488.05h3.70v3.69h-3.70zM1416.25,488.05h3.70v3.69h-3.70zM1419.75,488.05h3.70v3.69h-3.70zM1423.25,488.05h3.70v3.69h-3.70zM1426.75,488.05h3.70v3.69h-3.70zM1430.25,488.05h3.70v3.69h-3.70zM1433.75,488.05h3.70v3.69h-3.70zM1437.25,488.05h3.70v3.69h-3.70zM1440.75,488.05h3.70v3.69h-3.70zM1444.25,488.05h3.70v3.69h-3.70zM1447.75,488.05h3.70v3.69h-3.70zM1451.25,488.05h3.70v3.69h-3.70zM1454.75,488.05h3.70v3.69h-3.70zM1458.25,488.05h3.70v3.69h-3.70zM1461.75,488.05h3.70v3.69h-3.70zM1465.25,488.05h3.70v3.69h-3.70zM1468.75,488.05h3.70v3.69h-3.70zM1472.25,488.05h3.70v3.69h-3.70zM1475.75,488.05h3.70v3.69h-3.70zM1479.25,488.05h3.70v3.69h-3.70zM1482.75,488.05h3.70v3.69h-3.70zM1486.25,488.05h3.70v3.69h-3.70zM1489.75,488.05h3.70v3.69h-3.70zM1493.25,488.05h3.70v3.69h-3.70zM1496.75,488.05h3.70v3.69h-3.70zM1500.25,488.05h3.70v3.69h-3.70zM1503.75,488.05h3.70v3.69h-3.70zM1507.25,488.05h3.70v3.69h-3.70zM1510.75,488.05h3.70v3.69h-3.70zM1514.25,488.05h3.70v3.69h-3.70zM1517.75,488.05h3.70v3.69h-3.70zM1521.25,488.05h3.70v3.69h-3.70zM1524.75,488.05h3.70v3.69h-3.70zM1528.25,488.05h3.70v3.69h-3.70zM1531.75,488.05h3.70v3.69h-3.70zM1535.25,488.05h3.70v3.69h-3.70zM1538.75,488.05h3.70v3.69h-3.70zM1542.25,488.05h3.70v3.69h-3.70zM1545.75,488.05h3.70v3.69h-3.70zM1549.25,488.05h3.70v3.69h-3.70zM1552.75,488.05h3.70v3.69h-3.70zM1556.25,488.05h3.70v3.69h-3.70zM1559.75,488.05h3.70v3.69h-3.70zM1563.25,488.05h3.70v3.69h-3.70zM1566.75,488.05h3.70v3.69h-3.70zM1570.25,488.05h3.70v3.69h-3.70zM1573.75,488.05h3.70v3.69h-3.70zM1577.25,488.05h3.70v3.69h-3.70zM1580.75,488.05h3.70v3.69h-3.70zM1584.25,488.05h3.70v3.69h-3.70zM1587.75,488.05h3.70v3.69h-3.70zM1591.25,488.05h3.70v3.69h-3.70zM1594.75,488.05h3.70v3.69h-3.70zM1598.25,488.05h3.70v3.69h-3.70zM1601.75,488.05h3.70v3.69h-3.70zM1605.25,488.05h3.70v3.69h-3.70zM1608.75,488.05h3.70v3.69h-3.70zM1612.25,488.05h3.70v3.69h-3.70zM1615.75,488.05h3.70v3.69h-3.70zM1619.25,488.05h3.70v3.69h-3.70zM1622.75,488.05h3.70v3.69h-3.70zM1626.25,488.05h3.70v3.69h-3.70zM1629.75,488.05h3.70v3.69h-3.70zM1633.25,488.05h3.70v3.69h-3.70zM1636.75,488.05h3.70v3.69h-3.70zM1640.25,488.05h3.70v3.69h-3.70zM1643.75,488.05h3.70v3.69h-3.70zM1647.25,488.05h3.70v3.69h-3.70zM1650.75,488.05h3.70v3.69h-3.70zM1654.25,488.05h3.70v3.69h-3.70zM1657.75,488.05h3.70v3.69h-3.70zM1661.25,488.05h3.70v3.69h-3.70zM1664.75,488.05h3.70v3.69h-3.70zM1668.25,488.05h3.70v3.69h-3.70zM1671.75,488.05h3.70v3.69h-3.70zM1675.25,488.05h3.70v3.69h-3.70zM1678.75,488.05h3.70v3.69h-3.70zM1682.25,488.05h3.70v3.69h-3.70zM1685.75,488.05h3.70v3.69h-3.70zM1689.25,488.05h3.70v3.69h-3.70zM1692.75,488.05h3.70v3.69h-3.70zM1696.25,488.05h3.70v3.69h-3.70zM1699.75,488.05h3.70v3.69h-3.70zM1703.25,488.05h3.70v3.69h-3.70zM1706.75,488.05h3.70v3.69h-3.70zM1710.25,488.05h3.70v3.69h-3.70zM1713.75,488.05h3.70v3.69h-3.70zM1717.25,488.05h3.70v3.69h-3.70zM1720.75,488.05h3.70v3.69h-3.70zM1724.25,488.05h3.70v3.69h-3.70zM1727.75,488.05h3.70v3.69h-3.70zM1731.25,488.05h3.70v3.69h-3.70zM1734.75,488.05h3.70v3.69h-3.70zM1738.25,488.05h3.70v3.69h-3.70zM1741.75,488.05h3.70v3.69h-3.70zM1745.25,488.05h3.70v3.69h-3.70zM1748.75,488.05h3.70v3.69h-3.70zM1752.25,488.05h3.70v3.69h-3.70zM1755.75,488.05h3.70v3.69h-3.70zM1759.25,488.05h3.70v3.69h-3.70zM1762.75,488.05h3.70v3.69h-3.70zM1766.25,488.05h3.70v3.69h-3.70zM1769.75,488.05h3.70v3.69h-3.70zM1773.25,488.05h3.70v3.69h-3.70zM1776.75,488.05h3.70v3.69h-3.70zM1780.25,488.05h3.70v3.69h-3.70zM1783.75,488.05h3.70v3.69h-3.70zM1787.25,488.05h3.70v3.69h-3.70zM1790.75,488.05h3.70v3.69h-3.70zM1794.25,488.05h3.70v3.69h-3.70zM1797.75,488.05h3.70v3.69h-3.70zM1801.25,488.05h3.70v3.69h-3.70zM1804.75,488.05h3.70v3.69h-3.70z" class="r"/>
<rect x="765.7" y="162" width="717.8" height="146" fill="#fff" stroke="#222222" stroke-width="4.2"/>
<path d="M778,191.1h136.5v3.7h-136.5z" class="r"/>
<path d="M778,263.1h136.5v3.7h-136.5z" class="g"/>
<rect x="145.3" y="826.5" width="3.5" height="5" fill="#9fe4fb" opacity=".55"/><rect x="145.3" y="853" width="3.5" height="4.5" fill="#9fe4fb" opacity=".55"/>
</g>
<g filter="url(#softt)">
<text transform="translate(0,943.00) scale(1,1.0536)"><tspan x="147.84" textLength="31.98" lengthAdjust="spacingAndGlyphs">0</tspan></text>
<text transform="translate(0,943.00) scale(1,1.0536)"><tspan x="309.55" textLength="64.52" lengthAdjust="spacingAndGlyphs">10</tspan></text>
<text transform="translate(0,943.00) scale(1,1.0536)"><tspan x="491.36" textLength="63.96" lengthAdjust="spacingAndGlyphs">20</tspan></text>
<text transform="translate(0,943.00) scale(1,1.0536)"><tspan x="673.64" textLength="63.96" lengthAdjust="spacingAndGlyphs">30</tspan></text>
<text transform="translate(0,943.00) scale(1,1.0536)"><tspan x="854.77" textLength="63.96" lengthAdjust="spacingAndGlyphs">40</tspan></text>
<text transform="translate(0,943.00) scale(1,1.0536)"><tspan x="1034.84" textLength="63.96" lengthAdjust="spacingAndGlyphs">50</tspan></text>
<text transform="translate(0,943.00) scale(1,1.0536)"><tspan x="1215.26" textLength="63.96" lengthAdjust="spacingAndGlyphs">60</tspan></text>
<text transform="translate(0,943.00) scale(1,1.0536)"><tspan x="1397.26" textLength="63.96" lengthAdjust="spacingAndGlyphs">70</tspan></text>
<text transform="translate(0,943.00) scale(1,1.0536)"><tspan x="1578.10" textLength="63.96" lengthAdjust="spacingAndGlyphs">80</tspan></text>
<text transform="translate(0,943.00) scale(1,1.0536)"><tspan x="1758.90" textLength="63.96" lengthAdjust="spacingAndGlyphs">90</tspan></text>
<text transform="translate(0,156.80) scale(1,1.0536)"><tspan x="105.90" textLength="33.93" lengthAdjust="spacingAndGlyphs">2</tspan></text>
<text transform="translate(0,330.80) scale(1,1.0536)"><tspan x="108.91" textLength="32.26" lengthAdjust="spacingAndGlyphs">1</tspan></text>
<text transform="translate(0,511.40) scale(1,1.0536)"><tspan x="108.43" textLength="32.26" lengthAdjust="spacingAndGlyphs">0</tspan></text>
<text transform="translate(0,683.20) scale(1,1.0536)"><tspan x="62.74" textLength="45.03" lengthAdjust="spacingAndGlyphs" dy="4.08">−</tspan><tspan x="108.91" textLength="32.26" lengthAdjust="spacingAndGlyphs" dy="-4.08">1</tspan></text>
<text transform="translate(0,857.20) scale(1,1.0536)"><tspan x="62.74" textLength="45.03" lengthAdjust="spacingAndGlyphs" dy="4.08">−</tspan><tspan x="105.90" textLength="33.93" lengthAdjust="spacingAndGlyphs" dy="-4.08">2</tspan></text>
<text transform="translate(0,1021.60) scale(1,1.0625)"><tspan x="888.09" textLength="123.56" lengthAdjust="spacingAndGlyphs">Time</tspan> <tspan x="1025.96" textLength="101.61" lengthAdjust="spacingAndGlyphs">(ns)</tspan></text>
<text transform="translate(69.2,621.58) rotate(-90) scale(0.9886,1.0089)">Amplitude</text>
<text transform="translate(0,84.90) scale(1,1.0589)"><tspan x="161.93" textLength="25.64" lengthAdjust="spacingAndGlyphs" dy="-0.40">x</tspan> <tspan dy="0.4" x="197.15" textLength="64.52" lengthAdjust="spacingAndGlyphs">10</tspan><tspan x="260.69" textLength="22.36" lengthAdjust="spacingAndGlyphs" font-size="36.8" dy="-35.98">4</tspan></text>
<text transform="translate(0,217.90) scale(1,1.0446)"><tspan x="933.73" textLength="128.57" lengthAdjust="spacingAndGlyphs">trace</tspan> <tspan x="1074.39" textLength="27.46" lengthAdjust="spacingAndGlyphs" font-size="48" dy="-2.00">-</tspan> <tspan x="1115.22" textLength="82.63" lengthAdjust="spacingAndGlyphs" dy="2.00">DC</tspan></text>
<text transform="translate(0,283.10) scale(1,1.0446)"><tspan x="933.22" textLength="302.02" lengthAdjust="spacingAndGlyphs">Propagation</tspan> <tspan x="1250.94" textLength="218.38" lengthAdjust="spacingAndGlyphs">Function</tspan></text>
</g>
</svg>
</body>
</html>
